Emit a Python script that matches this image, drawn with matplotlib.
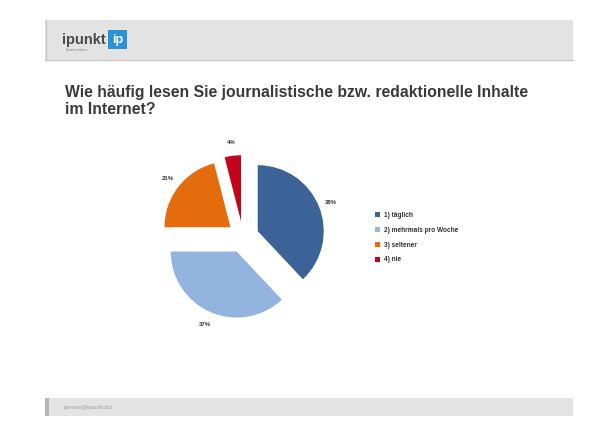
import matplotlib
matplotlib.use("Agg")
import matplotlib.pyplot as plt
from matplotlib.patches import Rectangle

categories = ["1) täglich", "2) mehrmals pro Woche", "3) seltener", "4) nie"]
values = [38, 37, 21, 4]
colors = ["#3b6397", "#93b4de", "#e46c0c", "#c0051d"]
title_lines = ["Wie häufig lesen Sie journalistische bzw. redaktionelle Inhalte", "im Internet?"]

W, H = 616, 436
fig = plt.figure(figsize=(W / 100, H / 100), dpi=100)
fig.patch.set_facecolor("white")

# background / decoration axes in pixel coordinates
bg = fig.add_axes([0, 0, 1, 1])
bg.set_xlim(0, W)
bg.set_ylim(H, 0)
bg.axis("off")

# header bar
bg.add_patch(Rectangle((45, 20), 528, 40, facecolor="#e3e3e3", edgecolor="none"))
bg.plot([45, 573], [60, 60], color="#cbcbcb", lw=1)
bg.plot([45.5, 45.5], [20, 60], color="#c8c8c8", lw=1)
bg.text(62, 40, "ipunkt", fontsize=10.5, fontweight="bold", color="#4a4a4a",
        family="Liberation Sans", va="center", ha="left")
bg.text(66, 50, "Business Solutions", fontsize=1.8, color="#777777",
        family="Liberation Sans", va="center", ha="left")
bg.add_patch(Rectangle((108, 30), 19, 19, facecolor="#2a93d5", edgecolor="none"))
bg.text(117.5, 39.5, "ip", fontsize=9, fontweight="bold", color="white",
        family="Liberation Sans", va="center", ha="center")

# footer bar
bg.add_patch(Rectangle((45, 398), 528, 18, facecolor="#e3e3e3", edgecolor="none"))
bg.add_patch(Rectangle((45, 398), 4, 18, facecolor="#b5b5b5", edgecolor="none"))
bg.text(64, 407, "presse@ipunkt.biz", fontsize=4.3, color="#a0a0a0",
        family="Liberation Sans", va="center", ha="left")

# title
for i, line in enumerate(title_lines):
    bg.text(65, 93 + 16.5 * i, line, fontsize=11.3, fontweight="bold", color="#3a3a3a",
            family="Liberation Sans", va="center", ha="left")

# pie axes: center (243,237) px, radius 66 px
cx, cy, R = 243, 237, 66
half = 100
ax = fig.add_axes([(cx - half) / W, (H - cy - half) / H, 2 * half / W, 2 * half / H])
explode = [0.24] * len(values)
wedges, texts, autotexts = ax.pie(
    values, colors=colors, explode=explode, startangle=90, counterclock=False,
    autopct="%1.0f%%", pctdistance=1.2, radius=1,
    wedgeprops=dict(linewidth=0),
    textprops=dict(fontsize=4.3, fontweight="bold", color="#333333", family="Liberation Sans"),
)
lim = half / R
ax.set_xlim(-lim, lim)
ax.set_ylim(-lim, lim)
ax.set_aspect("auto")
ax.axis("off")

# legend
leg = fig.legend(wedges, categories, loc="upper left",
                 bbox_to_anchor=(372 / W, 1 - 209 / H), frameon=False,
                 prop=dict(size=4.7, family="Liberation Sans", weight="bold"),
                 handlelength=0.8, handleheight=0.8, handletextpad=0.5,
                 labelspacing=1.18, borderpad=0, labelcolor="#333333")

fig.savefig("out.png", dpi=100, facecolor="white")
